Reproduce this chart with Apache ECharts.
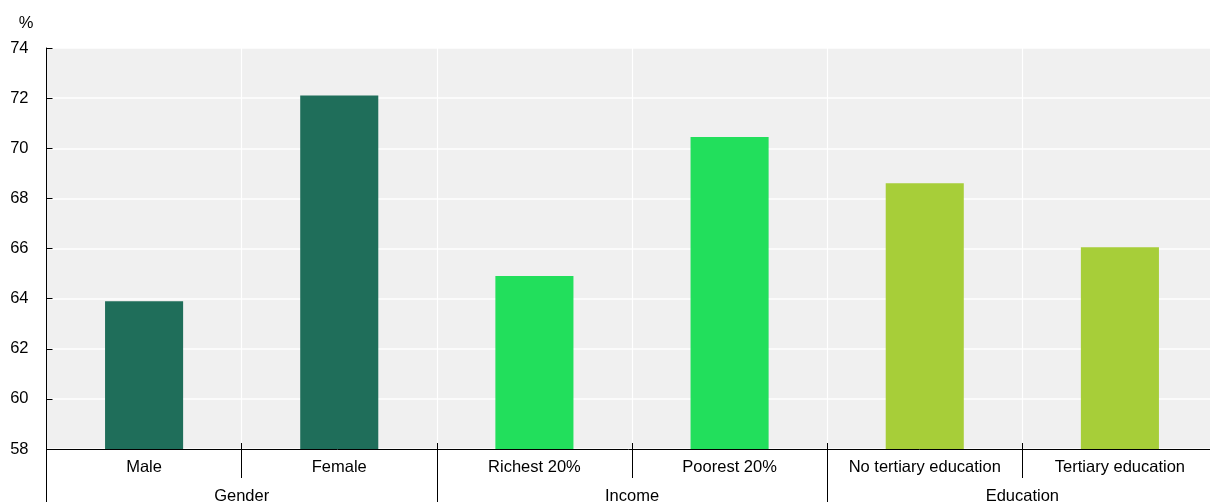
<!DOCTYPE html>
<html>
<head>
<meta charset="utf-8">
<script src="https://cdn.jsdelivr.net/npm/echarts@6/dist/echarts.min.js"></script>
<style>
html,body{margin:0;padding:0;background:#fff;}
#c{width:1210px;height:502px;}
</style>
</head>
<body>
<div id="c"></div>
<script>
// Data
var categories = ['Male', 'Female', 'Richest 20%', 'Poorest 20%', 'No tertiary education', 'Tertiary education'];
var groups = ['Gender', 'Income', 'Education'];
var categoryGroup = [0, 0, 1, 1, 2, 2];
var values = [63.9, 72.1, 64.9, 70.45, 68.6, 66.05];
var yTicks = [58, 60, 62, 64, 66, 68, 70, 72, 74];

// Styles
var groupColors = ['#1f6e5a', '#22df5c', '#a7ce39'];
var font = '"Liberation Sans", Arial, sans-serif';

var chart = echarts.init(document.getElementById('c'), null, {renderer: 'canvas'});
chart.setOption({
  animation: false,
  grid: {
    left: 46.5, top: 48, height: 401, width: 1171,
    outerBoundsMode: 'none', containLabel: false,
    show: true, backgroundColor: '#f0f0f0', borderWidth: 0
  },
  xAxis: [
    {
      type: 'category', data: categories, position: 'bottom',
      axisLine: {show: true, lineStyle: {color: '#000', width: 1}},
      axisTick: {show: true, inside: false, length: 29, interval: 0, lineStyle: {color: '#000'}},
      axisLabel: {interval: 0, margin: 10, color: '#000', fontSize: 16.5, fontFamily: font},
      splitLine: {show: true, interval: 0, lineStyle: {color: '#ffffff', width: 1.2}}
    },
    {
      type: 'category', data: categories, position: 'bottom',
      axisLine: {show: false},
      axisTick: {show: true, inside: true, length: 6, interval: 0, lineStyle: {color: '#000'}},
      axisLabel: {show: false},
      splitLine: {show: false}
    },
    {
      type: 'category', data: groups, position: 'bottom',
      axisLine: {show: false},
      axisTick: {show: true, inside: false, length: 60, interval: 0, lineStyle: {color: '#000'}},
      axisLabel: {interval: 0, margin: 39, color: '#000', fontSize: 16.5, fontFamily: font},
      splitLine: {show: false}
    }
  ],
  yAxis: {
    type: 'value', min: yTicks[0], max: yTicks[yTicks.length - 1], interval: 2,
    name: '%', nameLocation: 'end', nameGap: 25,
    nameTextStyle: {color: '#000', fontSize: 16.5, fontFamily: font, align: 'right', verticalAlign: 'middle', padding: [0, 13, 0, 0]},
    axisLine: {show: true, lineStyle: {color: '#000', width: 1}},
    axisTick: {show: true, inside: true, length: 6, lineStyle: {color: '#000'}},
    axisLabel: {color: '#000', fontSize: 16.5, fontFamily: font, margin: 18},
    splitLine: {show: true, lineStyle: {color: '#ffffff', width: 1.5}}
  },
  series: [{
    type: 'bar', xAxisIndex: 0, barWidth: '40%',
    data: values.map(function (v, i) {
      return {value: v, itemStyle: {color: groupColors[categoryGroup[i]]}};
    })
  }]
});
</script>
</body>
</html>
